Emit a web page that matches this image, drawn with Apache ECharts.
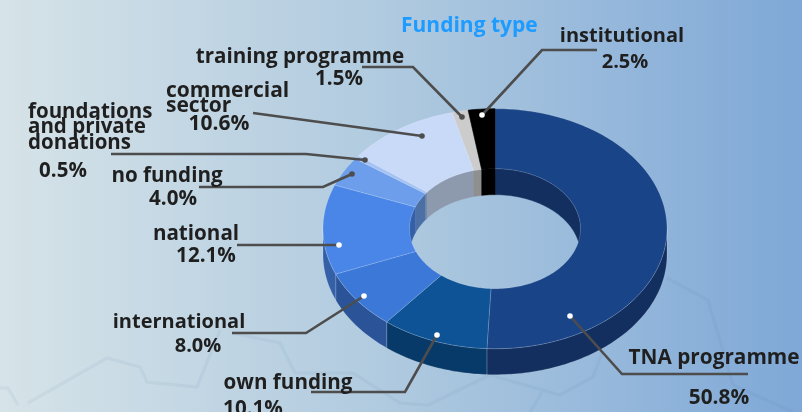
<!DOCTYPE html>
<html>
<head>
<meta charset="utf-8">
<style>html,body{margin:0;padding:0;overflow:hidden}#c{width:802px;height:412px}</style>
<script src="https://cdn.jsdelivr.net/npm/echarts@6/dist/echarts.min.js"></script>
</head>
<body>
<div id="c"></div>
<script>
// ---- data ----
const categories = ['TNA programme','own funding','international','national','no funding','foundations\nand private\ndonations','commercial\nsector','training programme','institutional'];
const shares = [50.8,10.1,8.0,12.1,4.0,0.5,10.6,1.5,2.5];
const titleText = 'Funding type';

// ---- style / layout (separate from data) ----
const topColors  = ['#1a4488','#0d5396','#3b78d8','#4a86e8','#6d9eeb','#a4c2f4','#c9daf8','#cccccc','#000000'];
const sideColors = ['#132f5f','#083a69','#2a5497','#3460a8','#4c6fa5','#7388ab','#8d99ad','#8f8f8f','#000000'];
const donut = {cx:495, cy:228.7, rx:172, ry:120, irx:85.5, iry:60, depth:26};
const FONT = '"Open Sans"';
const leaderPaths = [
  [[570,316],[622,374],[748,374]],
  [[437,335],[405,392],[311,392]],
  [[364,296],[306,333],[232,333]],
  [[339,245],[237,245]],
  [[352,174],[323,187],[199,187]],
  [[365,160],[306,154],[111,154]],
  [[422,136],[253,113]],
  [[462,117],[413,67],[362,67]],
  [[482,115],[542,50],[597,50]]
];
const dotColors = ['#fff','#fff','#fff','#fff','#4d4d4d','#4d4d4d','#4d4d4d','#4d4d4d','#fff'];
// name: x, y of first line, alignment, font size, line step; pct: x, y
const labelSpots = [
  {x:714,y:358,align:'center',size:20.8,step:0,px:719,py:398},
  {x:288,y:383,align:'center',size:20.6,step:0,px:253,py:409},
  {x:179,y:322,align:'center',size:20,step:0,px:198,py:346},
  {x:196,y:234,align:'center',size:20.6,step:0,px:206,py:256},
  {x:167,y:176,align:'center',size:20.6,step:0,px:173,py:199},
  {x:28,y:112,align:'left',size:20.5,step:15.5,px:63,py:171},
  {x:166,y:91,align:'left',size:21,step:15.5,px:219,py:124},
  {x:300,y:57,align:'center',size:20.6,step:0,px:339,py:79},
  {x:622,y:36,align:'center',size:20,step:0,px:625,py:62}
];
const backdropLines = [
  [[0,388],[8,388],[18,405]],
  [[28,403],[107,358],[140,367],[147,382],[197,387],[220,330]],
  [[232,333],[280,343],[295,373],[353,373],[400,403],[428,405],[490,375],[560,395],[593,377],[602,353]],
  [[667,278],[708,300],[733,385],[793,412]],
  [[542,392],[530,412]]
];

// ---- geometry helpers driven by the values ----
const total = shares.reduce((a,b)=>a+b,0);
const starts = []; shares.reduce((acc,v,i)=>{starts[i]=acc; return acc+v;},0);
const toAngle = v => v/total*Math.PI*2;
function arc(a0,a1,rx,ry,dy){
  const n = Math.max(2,Math.ceil(Math.abs(a1-a0)/(Math.PI/180)));
  const pts=[];
  for(let k=0;k<=n;k++){
    const t=a0+(a1-a0)*k/n;
    pts.push([donut.cx+rx*Math.sin(t), donut.cy-ry*Math.cos(t)+dy]);
  }
  return pts;
}
function overlap(a0,a1,b0,b1){
  const s=Math.max(a0,b0), e=Math.min(a1,b1);
  return e>s?[s,e]:null;
}
const EDGE='rgba(255,255,255,0.28)';

function renderWalls(params,api){
  const i=params.dataIndex, a0=toAngle(starts[i]), a1=a0+toAngle(api.value(1));
  const kids=[];
  const front=overlap(a0,a1,Math.PI/2,Math.PI*1.5);
  if(front){
    kids.push({type:'polygon',shape:{points:arc(front[0],front[1],donut.rx,donut.ry,0).concat(arc(front[1],front[0],donut.rx,donut.ry,donut.depth))},
      style:{fill:sideColors[i],stroke:EDGE,lineWidth:0.6}});
  }
  [[-Math.PI/2,Math.PI/2],[Math.PI*1.5,Math.PI*2.5]].forEach(r=>{
    const back=overlap(a0,a1,r[0],r[1]);
    if(back){
      kids.push({type:'polygon',shape:{points:arc(back[0],back[1],donut.irx,donut.iry,0).concat(arc(back[1],back[0],donut.irx,donut.iry,donut.depth))},
        style:{fill:sideColors[i],stroke:sideColors[i],lineWidth:0.4}});
    }
  });
  return {type:'group',children:kids};
}
function renderTops(params,api){
  const i=params.dataIndex, a0=toAngle(starts[i]), a1=a0+toAngle(api.value(1));
  return {type:'polygon',shape:{points:arc(a0,a1,donut.rx,donut.ry,0).concat(arc(a1,a0,donut.irx,donut.iry,0))},
    style:{fill:topColors[i],stroke:i===8?'#000':EDGE,lineWidth:0.6}};
}
function txt(s,x,y,align,size){
  return {type:'text',silent:true,style:{text:s,x:x,y:y,align:align,verticalAlign:'middle',
    fontFamily:FONT,fontWeight:700,fontSize:size,fill:'#1f1f1f'}};
}
function renderNotes(params,api){
  const i=params.dataIndex, L=labelSpots[i], P=leaderPaths[i], kids=[];
  kids.push({type:'polyline',shape:{points:P},style:{stroke:'#4d4d4d',lineWidth:2.6,fill:null,lineJoin:'miter'}});
  kids.push({type:'circle',shape:{cx:P[0][0],cy:P[0][1],r:2.8},style:{fill:dotColors[i]}});
  categories[i].split('\n').forEach((s,k)=>kids.push(txt(s,L.x,L.y+k*L.step,L.align,L.size)));
  kids.push(txt(api.value(1).toFixed(1)+'%',L.px,L.py,'center',L.size));
  return {type:'group',children:kids};
}
const rows=shares.map((v,i)=>[i,v]);
const chart=echarts.init(document.getElementById('c'),null,{renderer:'canvas'});
chart.setOption({
  animation:false,
  backgroundColor:new echarts.graphic.LinearGradient(0,0,1,0,[
    {offset:0,color:'#d6e3e8'},{offset:0.5,color:'#aec9df'},{offset:1,color:'#7fa8d7'}]),
  title:{text:titleText,left:396,top:11,textStyle:{color:'#1e9bff',fontFamily:FONT,fontWeight:700,fontSize:21}},
  graphic:backdropLines.map(p=>({type:'polyline',silent:true,z:0,shape:{points:p},style:{stroke:'rgba(70,110,150,0.07)',lineWidth:3.2,fill:null}})),
  series:[
    {type:'custom',coordinateSystem:'none',z:2,silent:true,data:rows,encode:{value:1},renderItem:renderWalls},
    {type:'custom',coordinateSystem:'none',z:3,silent:true,data:rows,encode:{value:1},renderItem:renderTops},
    {type:'custom',coordinateSystem:'none',z:4,silent:true,data:rows,encode:{value:1},renderItem:renderNotes}
  ]
});
</script>
</body>
</html>
